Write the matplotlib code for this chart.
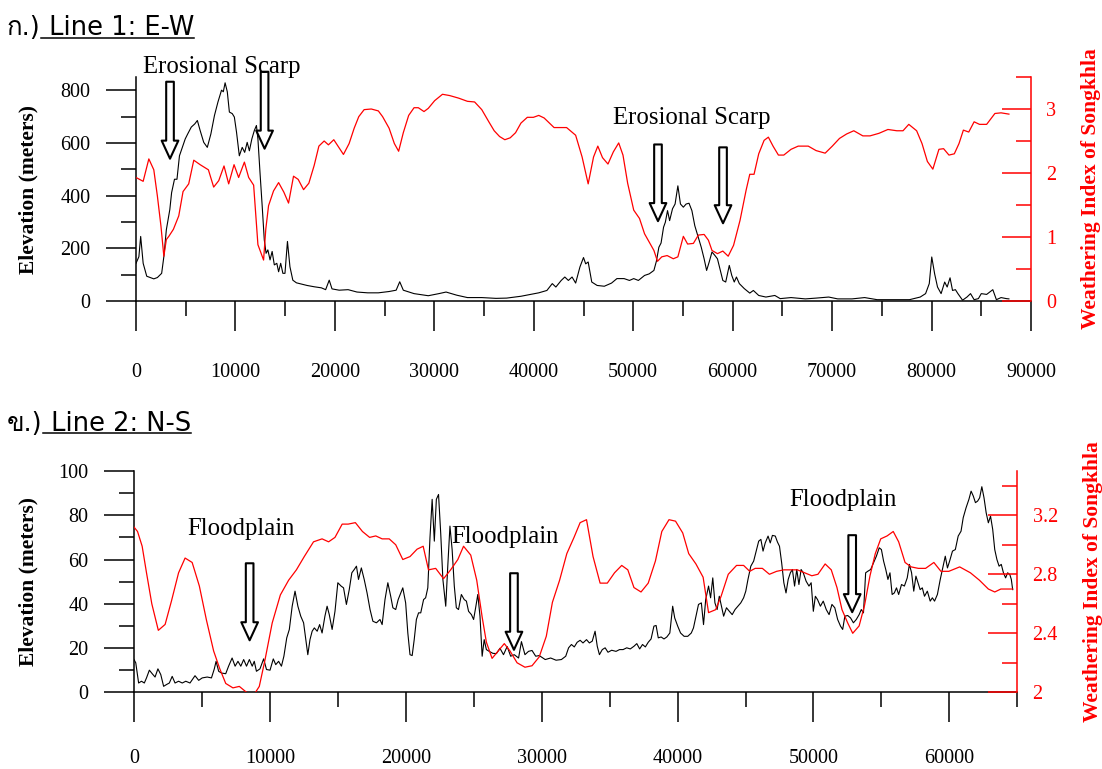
import numpy as np
import matplotlib
matplotlib.use('Agg')
import matplotlib.pyplot as plt
from matplotlib import font_manager, ft2font
from matplotlib.lines import Line2D
from matplotlib.ticker import MultipleLocator, FormatStrFormatter

# Line 1 (E-W): distance (m), elevation (m)
line1_elevation = [
    (0, 143), (290, 168), (470, 245), (720, 143), (1080, 94), (1430, 89), (1790, 84), (2150, 89),
    (2580, 105), (2800, 168), (3050, 270), (3400, 347), (3580, 411), (3870, 462), (4120, 462),
    (4370, 551), (4730, 590), (4950, 615), (5200, 634), (5560, 660), (5910, 672), (6170, 685),
    (6450, 647), (6810, 602), (7170, 583), (7530, 634), (7890, 704), (8240, 755), (8600, 800),
    (8780, 794), (8960, 828), (9180, 794), (9390, 717), (9680, 711), (9890, 698), (10110, 640),
    (10390, 551), (10680, 583), (10930, 564), (11180, 602), (11400, 570), (11650, 615), (11900, 647),
    (12110, 666), (12260, 615), (12470, 487), (12690, 360), (12900, 232), (13080, 181), (13260, 194),
    (13480, 156), (13690, 188), (13910, 137), (14160, 143), (14340, 111), (14550, 143), (14770, 105),
    (14980, 105), (15230, 226), (15480, 130), (15770, 79), (16130, 69), (16670, 64), (17200, 59),
    (17920, 54), (18640, 50), (19070, 43), (19430, 79), (19710, 46), (20430, 41), (21330, 43),
    (22220, 34), (23300, 31), (24370, 31), (25450, 36), (26160, 41), (26520, 73), (26880, 41),
    (27960, 28), (29390, 20), (30460, 28), (31180, 34), (32260, 22), (33330, 13), (34770, 13),
    (36200, 10), (37270, 11), (38710, 18), (39780, 26), (40500, 31), (41320, 40), (41860, 66),
    (42220, 53), (42760, 78), (43120, 91), (43480, 78), (43850, 91), (44210, 68), (44640, 129),
    (45000, 165), (45220, 141), (45470, 148), (45830, 72), (46370, 59), (47090, 56), (47820, 68),
    (48360, 85), (49080, 85), (49620, 78), (50050, 85), (50520, 78), (51140, 97), (51610, 103),
    (52080, 116), (52330, 151), (52580, 204), (52800, 220), (53050, 280), (53230, 299), (53450, 343),
    (53660, 305), (53950, 350), (54210, 368), (54490, 437), (54750, 368), (55040, 356), (55320, 368),
    (55610, 371), (55900, 343), (56190, 286), (56480, 249), (56840, 204), (57130, 160), (57380, 116),
    (57640, 148), (57920, 186), (58210, 173), (58470, 160), (58720, 122), (59010, 78), (59300, 72),
    (59660, 135), (59910, 97), (60160, 72), (60380, 91), (60670, 66), (61170, 47), (61720, 30),
    (62080, 40), (62620, 21), (63340, 15), (64240, 21), (64780, 9), (65870, 13), (67310, 8),
    (68390, 11), (69660, 15), (70560, 8), (72000, 8), (73270, 13), (74530, 5), (75970, 5),
    (77780, 5), (78860, 15), (79400, 28), (79770, 66), (80020, 167), (80310, 103), (80600, 53),
    (80960, 28), (81320, 72), (81570, 53), (81860, 88), (82110, 40), (82400, 43), (82650, 28),
    (83120, 3), (83560, 15), (83920, 28), (84280, 5), (84710, 9), (85000, 28), (85540, 25),
    (86160, 43), (86520, 5), (86990, 13), (87530, 9), (87780, 8),
]

# Line 1 (E-W): distance (m), weathering index
line1_weathering = [
    (0, 1.93), (720, 1.87), (1290, 2.22), (1790, 2.05), (2150, 1.64), (2510, 1.17), (2800, 0.70),
    (3050, 0.96), (3300, 1.01), (3760, 1.12), (4300, 1.33), (4730, 1.71), (5300, 1.83), (5810, 2.20),
    (6450, 2.13), (7280, 2.05), (7810, 1.78), (8320, 1.88), (8850, 2.11), (9320, 1.83), (9860, 2.13),
    (10320, 1.93), (10900, 2.17), (11330, 1.93), (11830, 1.81), (12260, 0.88), (12830, 0.64),
    (13050, 1.12), (13330, 1.49), (13830, 1.72), (14340, 1.85), (14870, 1.70), (15340, 1.53),
    (15840, 1.95), (16310, 1.90), (16850, 1.74), (17380, 1.84), (17920, 2.12), (18390, 2.42),
    (18920, 2.50), (19350, 2.44), (19890, 2.52), (20360, 2.41), (20860, 2.29), (21430, 2.46),
    (21940, 2.70), (22400, 2.88), (22940, 2.99), (23660, 3.00), (24370, 2.97), (24800, 2.88),
    (25450, 2.70), (25980, 2.46), (26410, 2.34), (26880, 2.63), (27420, 2.90), (27960, 3.02),
    (28390, 3.02), (28960, 2.96), (29390, 3.01), (30030, 3.13), (30820, 3.23), (31540, 3.21),
    (32440, 3.17), (33330, 3.12), (34050, 3.11), (34770, 2.99), (35480, 2.80), (36020, 2.66),
    (36560, 2.57), (37090, 2.52), (37630, 2.55), (38170, 2.63), (38710, 2.78), (39350, 2.87),
    (39960, 2.87), (40500, 2.90), (41040, 2.86), (42040, 2.71), (43300, 2.71), (44210, 2.59),
    (44860, 2.25), (45470, 1.83), (46010, 2.25), (46440, 2.42), (46910, 2.24), (47460, 2.14),
    (48000, 2.33), (48540, 2.47), (48970, 2.28), (49440, 1.84), (50050, 1.42), (50630, 1.29),
    (51140, 1.05), (51610, 0.92), (52080, 0.79), (52440, 0.62), (52870, 0.69), (53410, 0.71),
    (54030, 0.66), (54490, 0.69), (55040, 1.01), (55470, 0.89), (56050, 0.90), (56550, 1.03),
    (57130, 1.04), (57560, 0.95), (57920, 0.79), (58470, 0.74), (59010, 0.78), (59550, 0.70),
    (60090, 0.87), (60740, 1.26), (61350, 1.73), (61720, 1.98), (62150, 1.98), (62620, 2.30),
    (63160, 2.51), (63590, 2.56), (64060, 2.42), (64600, 2.28), (65140, 2.28), (65870, 2.37),
    (66590, 2.42), (67600, 2.42), (68390, 2.35), (69300, 2.31), (70020, 2.42), (70740, 2.54),
    (71460, 2.61), (72180, 2.66), (73090, 2.58), (73810, 2.58), (74710, 2.62), (75610, 2.68),
    (76510, 2.66), (77130, 2.66), (77710, 2.76), (78500, 2.66), (79040, 2.46), (79580, 2.18),
    (80130, 2.06), (80740, 2.37), (81210, 2.38), (81750, 2.28), (82290, 2.30), (82760, 2.46),
    (83200, 2.67), (83740, 2.64), (84280, 2.80), (84820, 2.76), (85540, 2.76), (86370, 2.93),
    (86990, 2.94), (87780, 2.92),
]

# Line 2 (N-S): distance (m), elevation (m)
line2_elevation = [
    (0, 14.8), (130, 13.3), (340, 4.2), (550, 5.0), (760, 4.2), (920, 6.5), (1130, 10.0), (1340, 8.4),
    (1550, 6.9), (1760, 10.6), (1970, 8.0), (2180, 2.7), (2390, 3.5), (2600, 4.2), (2810, 7.2),
    (3020, 4.2), (3280, 5.0), (3550, 4.2), (3810, 5.0), (4120, 4.2), (4490, 7.5), (4760, 5.4),
    (5020, 6.5), (5390, 6.9), (5700, 6.5), (5910, 10.6), (6040, 14.0), (6230, 9.5), (6440, 8.7),
    (6750, 8.4), (6960, 11.8), (7220, 15.5), (7440, 11.8), (7650, 14.0), (7860, 11.8), (8070, 14.8),
    (8280, 11.8), (8490, 14.8), (8700, 11.8), (8850, 14.0), (9010, 9.5), (9270, 10.6), (9540, 15.1),
    (9750, 10.3), (10010, 10.0), (10250, 15.1), (10430, 12.5), (10640, 14.0), (10850, 11.8),
    (11030, 16.3), (11240, 24.6), (11430, 28.4), (11640, 38.9), (11850, 45.7), (12060, 38.9),
    (12270, 34.4), (12480, 31.4), (12640, 23.8), (12790, 17.0), (12950, 23.8), (13110, 27.6),
    (13270, 29.1), (13480, 27.6), (13660, 30.6), (13840, 26.8), (14050, 34.4), (14210, 38.9),
    (14370, 35.1), (14580, 28.4), (14790, 36.6), (15000, 49.5), (15240, 48.0), (15420, 47.2),
    (15630, 39.7), (15840, 46.4), (16030, 54.0), (16210, 55.5), (16370, 57.0), (16520, 51.0),
    (16730, 56.2), (16940, 51.0), (17150, 44.9), (17370, 37.4), (17580, 32.1), (17840, 31.4),
    (18100, 32.9), (18260, 30.6), (18470, 41.9), (18680, 49.5), (18890, 43.4), (19050, 38.2),
    (19260, 37.4), (19440, 41.9), (19630, 44.9), (19780, 47.2), (19990, 40.4), (20150, 26.8),
    (20310, 17.0), (20470, 16.6), (20620, 23.8), (20780, 32.9), (20940, 35.9), (21100, 35.9),
    (21310, 41.9), (21460, 42.7), (21620, 47.2), (21780, 69.8), (21940, 87.2), (22100, 68.3),
    (22250, 87.2), (22410, 89.4), (22570, 71.9), (22730, 51.0), (22940, 38.9), (23090, 57.0),
    (23250, 75.1), (23410, 64.5), (23570, 48.0), (23720, 38.2), (23880, 37.4), (24090, 44.2),
    (24300, 41.9), (24460, 41.2), (24620, 36.6), (24830, 35.1), (24990, 32.9), (25140, 38.2),
    (25300, 44.2), (25460, 34.4), (25620, 16.3), (25770, 23.8), (25930, 19.3), (26140, 18.5),
    (26410, 17.6), (26670, 17.5), (26930, 19.9), (27190, 17.0), (27460, 20.7), (27720, 16.3),
    (27980, 17.0), (28300, 15.5), (28510, 22.9), (28770, 17.0), (29030, 18.5), (29290, 18.9),
    (29560, 16.3), (29820, 16.6), (30260, 14.8), (30660, 15.5), (31060, 14.5), (31450, 14.8),
    (31770, 16.3), (31980, 20.1), (32190, 21.6), (32400, 20.5), (32610, 22.6), (32830, 23.5),
    (33040, 22.3), (33300, 23.8), (33510, 22.3), (33720, 23.1), (33930, 27.6), (34090, 20.8),
    (34250, 17.0), (34460, 19.3), (34670, 20.1), (34880, 18.1), (35150, 19.0), (35470, 18.5),
    (35730, 19.3), (35990, 19.3), (36260, 20.1), (36520, 19.6), (36790, 20.8), (37000, 22.0),
    (37210, 19.6), (37420, 21.6), (37630, 20.5), (37840, 22.6), (38050, 24.1), (38260, 29.9),
    (38420, 30.2), (38580, 24.6), (38790, 25.0), (39000, 24.1), (39210, 25.0), (39430, 26.8),
    (39640, 38.9), (39790, 33.6), (40010, 29.9), (40220, 26.8), (40480, 25.3), (40750, 25.3),
    (41010, 26.8), (41170, 29.1), (41330, 33.6), (41540, 39.7), (41750, 40.4), (41910, 30.6),
    (42070, 41.9), (42280, 48.0), (42430, 42.7), (42590, 51.7), (42750, 40.4), (42910, 37.4),
    (43070, 43.4), (43230, 38.9), (43390, 34.4), (43600, 38.2), (43810, 36.6), (44020, 35.1),
    (44230, 37.4), (44440, 38.9), (44650, 40.4), (44860, 42.7), (45020, 45.7), (45180, 51.0),
    (45390, 57.0), (45600, 59.3), (45810, 64.5), (45970, 68.3), (46130, 69.1), (46290, 63.8),
    (46450, 67.5), (46660, 70.6), (46820, 67.5), (46980, 70.9), (47190, 70.6), (47350, 67.9),
    (47500, 66.0), (47660, 58.5), (47820, 49.5), (47980, 44.9), (48140, 51.0), (48300, 54.0),
    (48450, 55.5), (48610, 48.0), (48770, 55.5), (48930, 48.7), (49090, 55.5), (49250, 54.0),
    (49460, 50.2), (49670, 48.0), (49830, 49.5), (49990, 36.6), (50140, 43.4), (50300, 41.9),
    (50510, 38.9), (50720, 41.2), (50940, 37.4), (51150, 35.1), (51360, 39.7), (51570, 38.2),
    (51780, 32.9), (51990, 29.9), (52150, 28.4), (52310, 34.4), (52520, 34.7), (52730, 33.6),
    (52940, 31.4), (53150, 32.9), (53360, 35.1), (53520, 37.4), (53680, 35.9), (53840, 54.0),
    (54000, 54.7), (54210, 55.5), (54420, 58.5), (54630, 61.5), (54840, 65.3), (55000, 64.5),
    (55160, 59.3), (55320, 55.5), (55480, 51.0), (55630, 54.0), (55790, 44.2), (55950, 44.9),
    (56110, 47.2), (56270, 44.2), (56480, 48.7), (56690, 48.0), (56900, 51.7), (57060, 57.8),
    (57220, 54.0), (57380, 45.7), (57540, 52.5), (57690, 49.5), (57850, 46.4), (58010, 47.2),
    (58170, 43.4), (58380, 45.7), (58590, 41.2), (58750, 42.7), (58910, 41.2), (59120, 44.2),
    (59330, 51.0), (59540, 57.0), (59700, 61.5), (59860, 56.2), (60020, 59.3), (60230, 63.8),
    (60440, 64.5), (60650, 70.6), (60860, 72.8), (61020, 78.9), (61230, 83.4), (61440, 87.2),
    (61600, 90.9), (61760, 88.7), (61920, 85.7), (62080, 86.4), (62230, 87.9), (62390, 92.9),
    (62550, 87.9), (62710, 81.1), (62870, 76.6), (63030, 79.6), (63190, 73.6), (63340, 64.5),
    (63500, 60.0), (63660, 57.0), (63820, 57.8), (63980, 54.0), (64140, 51.7), (64290, 54.0),
    (64450, 53.2), (64560, 51.0), (64660, 46.4),
]

# Line 2 (N-S): distance (m), weathering index
line2_weathering = [
    (0, 3.12), (260, 3.09), (600, 2.99), (920, 2.81), (1310, 2.60), (1790, 2.42), (2290, 2.46),
    (2760, 2.62), (3280, 2.81), (3760, 2.91), (4280, 2.88), (4810, 2.72), (5330, 2.49), (5860, 2.28),
    (6310, 2.16), (6750, 2.06), (7280, 2.03), (7750, 2.04), (8280, 2.00), (8800, 1.98), (9220, 2.04),
    (9640, 2.22), (10170, 2.47), (10770, 2.66), (11380, 2.76), (11950, 2.83), (12530, 2.92),
    (13210, 3.02), (13840, 3.04), (14320, 3.02), (14790, 3.05), (15320, 3.14), (15760, 3.14),
    (16290, 3.15), (16810, 3.09), (17340, 3.05), (17790, 3.06), (18260, 3.04), (18780, 3.04),
    (19260, 3.00), (19780, 2.90), (20310, 2.92), (20830, 2.97), (21280, 2.99), (21670, 2.83),
    (22200, 2.84), (22780, 2.77), (23300, 2.83), (23830, 2.90), (24250, 2.99), (24780, 2.93),
    (25220, 2.76), (25620, 2.51), (25930, 2.34), (26350, 2.23), (26800, 2.28), (27250, 2.33),
    (27670, 2.28), (28190, 2.20), (28770, 2.17), (29290, 2.18), (29820, 2.24), (30340, 2.38),
    (30790, 2.61), (31320, 2.76), (31850, 2.94), (32380, 3.05), (32830, 3.15), (33300, 3.17),
    (33780, 2.92), (34300, 2.74), (34830, 2.74), (35360, 2.81), (35890, 2.86), (36340, 2.83),
    (36790, 2.71), (37310, 2.68), (37840, 2.74), (38370, 2.89), (38840, 3.09), (39370, 3.17),
    (39850, 3.16), (40380, 3.08), (40820, 2.94), (41350, 2.87), (41880, 2.78), (42280, 2.54),
    (42800, 2.56), (43200, 2.65), (43730, 2.80), (44340, 2.86), (44860, 2.86), (45310, 2.82),
    (45710, 2.84), (46240, 2.84), (46760, 2.80), (47290, 2.82), (47820, 2.83), (48350, 2.83),
    (48820, 2.83), (49350, 2.81), (49880, 2.79), (50330, 2.80), (50860, 2.87), (51310, 2.83),
    (51730, 2.71), (52100, 2.56), (52520, 2.47), (52890, 2.40), (53360, 2.45), (53760, 2.59),
    (54160, 2.79), (54550, 2.94), (54950, 3.04), (55420, 3.06), (55870, 3.09), (56270, 3.02),
    (56740, 2.88), (57190, 2.85), (57720, 2.84), (58250, 2.84), (58860, 2.88), (59380, 2.82),
    (59960, 2.82), (60760, 2.85), (61550, 2.81), (62210, 2.76), (62870, 2.70), (63340, 2.68),
    (63790, 2.70), (64660, 2.70),
]

# annotations: arrows as (distance, top elevation, tip elevation), notes as (text, distance, elevation)
line1_arrows = [(3420, 832, 540), (12930, 870, 578), (52490, 594, 303), (59030, 583, 295)]
line1_notes = [('Erosional Scarp', 8600, 864), ('Erosional Scarp', 55860, 672)]
line2_arrows = [(8510, 58.3, 23.5), (27960, 53.8, 19.2), (52850, 71.0, 36.2)]
line2_notes = [('Floodplain', 7910, 71.0), ('Floodplain', 27280, 67.4), ('Floodplain', 52160, 84.1)]

W, H = 1102, 769


def thai_font():
    for f in font_manager.fontManager.ttflist:
        try:
            if 0x0E01 in ft2font.FT2Font(f.fname).get_charmap():
                return f.name
        except Exception:
            continue
    return 'DejaVu Sans'


def add_title(fig, prefix, rest, baseline_px, family):
    y = 1 - baseline_px / H
    kw = dict(fontsize=18.5, family=family, va='baseline', color='black')
    t1 = fig.text(7 / W, y, prefix, **kw)
    r = fig.canvas.get_renderer()
    b1 = t1.get_window_extent(r)
    t2 = fig.text(b1.x1 / W, y, rest, **kw)
    b2 = t2.get_window_extent(r)
    fig.add_artist(Line2D([b1.x1 / W, b2.x1 / W], [y - 2.5 / H] * 2,
                          transform=fig.transFigure, color='black', lw=1.1))


def draw_panel(fig, rect, elev, wi, xmax, ylim, ystep, rlim, rstep, rfmt,
               ylab_x, rlab_x, arrows, notes, xpad):
    ax = fig.add_axes(rect)
    ax2 = ax.twinx()

    d, e = np.array(elev).T
    ax.plot(d, e, color='black', lw=0.8)
    d2, w = np.array(wi).T
    ax2.plot(d2, w, color='red', lw=0.9)

    ax.set_xlim(0, xmax)
    ax.set_ylim(*ylim)
    ax2.set_ylim(*rlim)
    ax.xaxis.set_major_locator(MultipleLocator(10000))
    ax.xaxis.set_minor_locator(MultipleLocator(5000))
    ax.yaxis.set_major_locator(MultipleLocator(ystep))
    ax.yaxis.set_minor_locator(MultipleLocator(ystep / 2))
    ax2.yaxis.set_major_locator(MultipleLocator(rstep))
    ax2.yaxis.set_minor_locator(MultipleLocator(rstep / 2))
    ax2.yaxis.set_major_formatter(FormatStrFormatter(rfmt))

    for s in ('top', 'right'):
        ax.spines[s].set_visible(False)
    for s in ('top', 'left', 'bottom'):
        ax2.spines[s].set_visible(False)
    ax.spines['left'].set_linewidth(1.1)
    ax.spines['bottom'].set_linewidth(1.1)
    ax2.spines['right'].set_color('red')
    ax2.spines['right'].set_linewidth(1.1)

    ax.tick_params(which='both', direction='out', color='black', width=1.1,
                   labelsize=14.5, pad=11)
    ax.tick_params(which='major', length=21.6)
    ax.tick_params(which='minor', length=10.8)
    ax.tick_params(axis='x', pad=xpad)
    ax2.tick_params(which='both', direction='in', colors='red', width=1.1,
                    labelsize=14.5, pad=11)
    ax2.tick_params(which='major', length=21)
    ax2.tick_params(which='minor', length=10.5)

    ax.set_ylabel('Elevation (meters)', fontsize=15.5, fontweight='bold')
    ax.yaxis.set_label_coords(ylab_x, 0.5)
    ax2.set_ylabel('Weathering Index of Songkhla', fontsize=15.5,
                   fontweight='bold', color='red')
    ax2.yaxis.set_label_coords(rlab_x, 0.5)

    for x, top, tip in arrows:
        ax2.annotate('', xy=(x, tip), xytext=(x, top),
                     xycoords=ax.transData, textcoords=ax.transData,
                     annotation_clip=False,
                     arrowprops=dict(arrowstyle='simple,head_length=1.3,head_width=1.2,tail_width=0.55',
                                     fc='white', ec='black', lw=1.5,
                                     mutation_scale=10, shrinkA=0, shrinkB=0))
    for label, x, y in notes:
        ax2.annotate(label, xy=(x, y), xycoords=ax.transData,
                     ha='center', va='baseline', fontsize=17.8, annotation_clip=False)
    return ax, ax2


def main():
    plt.rcParams['font.family'] = ['Liberation Serif', 'DejaVu Serif']
    fig = plt.figure(figsize=(W / 100, H / 100), dpi=100)

    draw_panel(fig, [136 / W, 1 - 301 / H, 895 / W, 224 / H],
               line1_elevation, line1_weathering, 90000, (0, 850), 200,
               (0, 3.5), 1, '%g', -0.1084, 1.0559, line1_arrows, line1_notes, 23)
    draw_panel(fig, [134 / W, 1 - 692.3 / H, 883.3 / W, 221.3 / H],
               line2_elevation, line2_weathering, 65000, (0, 100), 20,
               (2, 3.5), 0.4, '%g', -0.1076, 1.0744, line2_arrows, line2_notes, 19.5)

    fam = ['DejaVu Sans', thai_font(), 'Noto Sans']
    add_title(fig, 'ก.)', ' Line 1: E-W', 35, fam)
    add_title(fig, 'ข.)', ' Line 2: N-S', 430.7, fam)

    fig.savefig('out.png', dpi=100)


if __name__ == '__main__':
    main()
